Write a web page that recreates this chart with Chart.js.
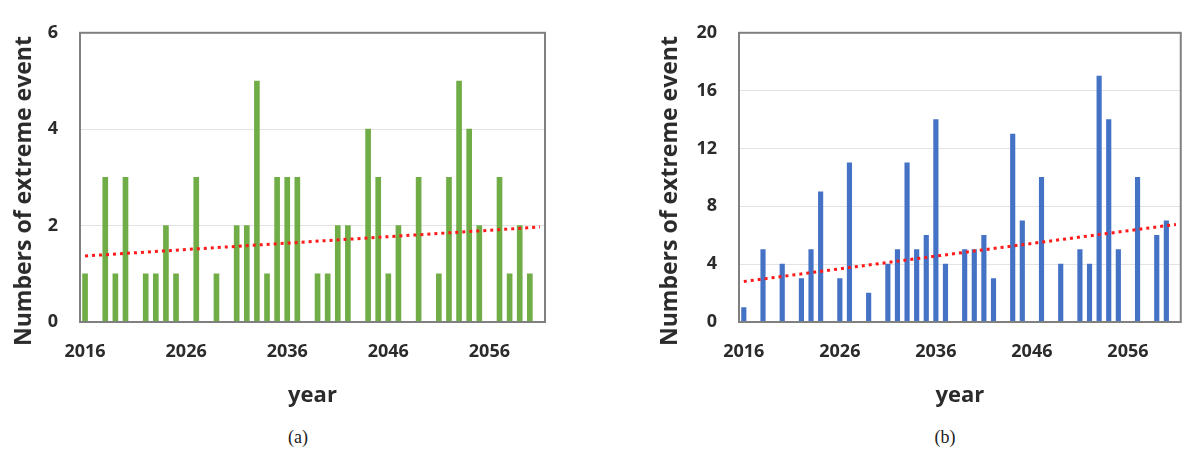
<!DOCTYPE html>
<html lang="en">
<head>
<meta charset="UTF-8">
<title>Numbers of extreme event</title>
<script src="https://cdn.jsdelivr.net/npm/chart.js"></script>
<style>
  body { margin: 0; background: #fff; width: 1195px; height: 453px; position: relative; overflow: hidden; font-family: 'Open Sans', sans-serif; }
  canvas { position: absolute; top: 0; }
  #chartA { left: 0; }
  #chartB { left: 640px; }
  .ytitle { position: absolute; top: 191px; font-weight: bold; font-size: 23px; color: #2b2b2b; white-space: nowrap; transform: translate(-50%, -50%) rotate(-90deg); }
  .caption { position: absolute; top: 437px; font-family: 'Liberation Serif', 'Times New Roman', serif; font-size: 18px; color: #222; transform: translate(-50%, -50%); }
</style>
</head>
<body>
<canvas id="chartA" width="600" height="409"></canvas>
<canvas id="chartB" width="555" height="409"></canvas>
<div class="ytitle" style="left:22px">Numbers of extreme event</div>
<div class="ytitle" style="left:668px">Numbers of extreme event</div>
<div class="caption" style="left:298px">(a)</div>
<div class="caption" style="left:945px">(b)</div>

<script>
// years on the axis (the last slot is left empty, as in the original)
const years = [];
for (let y = 2016; y <= 2061; y++) years.push(String(y));

// (a) yearly counts 2016-2060
const eventsA = [1, 0, 3, 1, 3, 0, 1, 1, 2, 1,
                 0, 3, 0, 1, 0, 2, 2, 5, 1, 3,
                 3, 3, 0, 1, 1, 2, 2, 0, 4, 3,
                 1, 2, 0, 3, 0, 1, 3, 5, 4, 2,
                 0, 3, 1, 2, 1];
// (b) yearly counts 2016-2060
const eventsB = [1, 0, 5, 0, 4, 0, 3, 5, 9, 0,
                 3, 11, 0, 2, 0, 4, 5, 11, 5, 6,
                 14, 4, 0, 5, 5, 6, 3, 0, 13, 7,
                 0, 10, 0, 4, 0, 5, 4, 17, 14, 5,
                 0, 10, 0, 6, 7];

// linear trend, start and end values
const trendA = [1.37, 1.97];
const trendB = [2.8, 6.75];

const yTicksA = { max: 6, step: 2 };
const yTicksB = { max: 20, step: 4 };

const tickFont = { family: 'Open Sans', size: 18, weight: 'bold' };

// grey box round the plot area
const framePlugin = {
  id: 'frame',
  afterDraw(chart) {
    const a = chart.chartArea, ctx = chart.ctx;
    ctx.save();
    ctx.strokeStyle = '#808080';
    ctx.lineWidth = 2;
    ctx.strokeRect(a.left, a.top, a.right - a.left, a.bottom - a.top);
    ctx.restore();
  }
};

function trendLine(ends) {
  const arr = years.map(() => null);
  arr[0] = ends[0];
  arr[arr.length - 1] = ends[1];
  return arr;
}

function makeChart(id, values, trend, color, yt, yWidth, padRight, barW) {
  return new Chart(document.getElementById(id), {
    type: 'bar',
    data: {
      labels: years,
      datasets: [
        {
          type: 'line',
          data: trendLine(trend),
          borderColor: '#ff1a1a',
          borderWidth: 3,
          borderDash: [3, 4],
          pointRadius: 0,
          spanGaps: true,
          order: 0
        },
        {
          data: values,
          backgroundColor: color,
          barThickness: barW,
          order: 1
        }
      ]
    },
    options: {
      responsive: false,
      animation: false,
      layout: { padding: { top: 31, right: padRight, left: 0, bottom: 0 } },
      plugins: { legend: { display: false }, tooltip: { enabled: false } },
      scales: {
        x: {
          grid: { display: false, drawTicks: false },
          border: { display: false },
          ticks: {
            autoSkip: false, maxRotation: 0, padding: 19,
            color: '#2b2b2b', font: tickFont,
            callback: (v, i) => (i % 10 === 0 ? years[i] : '')
          },
          title: {
            display: true, text: 'year', color: '#2b2b2b',
            font: { family: 'Open Sans', size: 22, weight: 'bold' },
            padding: { top: 0, bottom: 0 }
          },
          afterFit: s => { s.height = 87; }
        },
        y: {
          min: 0, max: yt.max,
          grid: { color: '#e3e3e3', drawTicks: false },
          border: { display: false },
          ticks: { stepSize: yt.step, padding: 22, color: '#2b2b2b', font: tickFont },
          afterFit: s => { s.width = yWidth; }
        }
      }
    },
    plugins: [framePlugin]
  });
}

makeChart('chartA', eventsA, trendA, '#70ad47', yTicksA, 80, 55, 5);
makeChart('chartB', eventsB, trendB, '#4472c4', yTicksB, 99, 4, 4.5);
</script>
</body>
</html>
